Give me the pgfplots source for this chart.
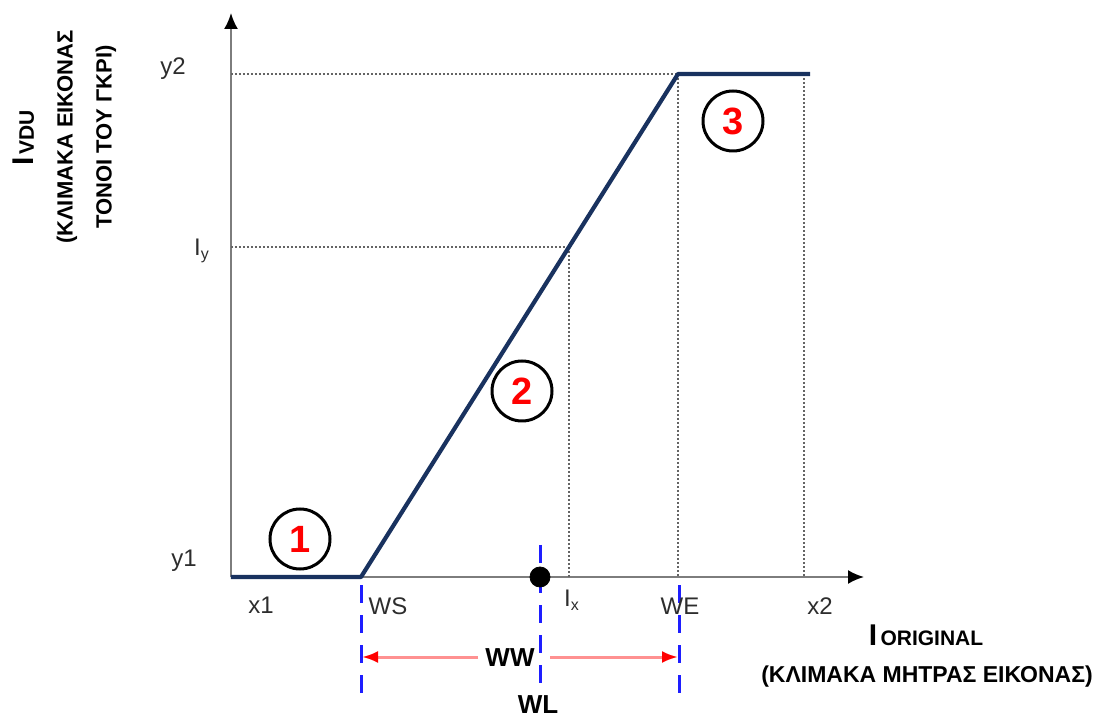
\documentclass[border=0pt]{standalone}
\usepackage{fontspec}
\setmainfont{Liberation Sans}
\usepackage{pgfplots}
\pgfplotsset{compat=1.18}
\usetikzlibrary{arrows.meta}
\definecolor{navy}{RGB}{25,50,95}
\definecolor{axgray}{RGB}{125,125,125}
\definecolor{pinkred}{RGB}{255,145,145}
\definecolor{dblue}{RGB}{30,30,255}
\definecolor{lbl}{RGB}{45,45,45}
\definecolor{dotg}{RGB}{100,100,100}
\begin{document}
\begin{tikzpicture}
\begin{axis}[
  scale only axis, width=316.5pt, height=282pt,
  xmin=231, xmax=864, ymin=140, ymax=704,
  axis lines=left, ticks=none, clip=false,
  axis line style={axgray, line width=1pt},
  every outer x axis line/.append style={-{Latex[black,length=8pt,width=7pt]}},
  every outer y axis line/.append style={-{Latex[black,length=8pt,width=7pt]}},
]
\path (axis cs:0,0) rectangle (axis cs:1107,717);
% dotted guides
\addplot[dotg, line width=0.7pt, dash pattern=on 1pt off 1pt] coordinates {(231,643) (678,643)};
\addplot[dotg, line width=0.7pt, dash pattern=on 1pt off 1pt] coordinates {(678,643) (678,140)};
\addplot[dotg, line width=0.7pt, dash pattern=on 1pt off 1pt] coordinates {(804,643) (804,140)};
\addplot[dotg, line width=0.7pt, dash pattern=on 1pt off 1pt] coordinates {(231,470) (569,470)};
\addplot[dotg, line width=0.7pt, dash pattern=on 1pt off 1pt] coordinates {(569,470) (569,140)};
% transfer curve
\addplot[navy, line width=2.1pt, line join=round] coordinates {(231,140) (361,140) (678,643) (810,643)};
% window lines
\addplot[dblue, line width=1.5pt, dash pattern=on 9pt off 6pt] coordinates {(361,132) (361,19)};
\addplot[dblue, line width=1.5pt, dash pattern=on 9pt off 6pt] coordinates {(540,172) (540,24)};
\addplot[dblue, line width=1.5pt, dash pattern=on 9pt off 6pt] coordinates {(679,132) (679,19)};
% WW arrows
\addplot[pinkred, line width=1.5pt, -{Latex[red,length=8pt,width=6pt]}] coordinates {(478,60) (362,60)};
\addplot[pinkred, line width=1.5pt, -{Latex[red,length=8pt,width=6pt]}] coordinates {(550,60) (678,60)};
% level point
\addplot[only marks, mark=*, mark size=5pt, black] coordinates {(540,140)};
% region circles
\node[circle, draw=black, line width=1.5pt, minimum size=30pt, inner sep=0pt, text=red, font=\fontsize{19}{19}\selectfont\bfseries] at (axis cs:300,178) {1};
\node[circle, draw=black, line width=1.5pt, minimum size=30pt, inner sep=0pt, text=red, font=\fontsize{19}{19}\selectfont\bfseries] at (axis cs:522,326) {2};
\node[circle, draw=black, line width=1.5pt, minimum size=30pt, inner sep=0pt, text=red, font=\fontsize{19}{19}\selectfont\bfseries] at (axis cs:733,596) {3};
% labels
\tikzset{lb/.style={text=lbl, font=\fontsize{12}{14}\selectfont, inner sep=0pt}}
\node[lb] at (axis cs:173,648) {y2};
\node[lb] at (axis cs:202,466) {I\textsubscript{y}};
\node[lb] at (axis cs:184,156) {y1};
\node[lb] at (axis cs:261,112) {x1};
\node[lb] at (axis cs:388,111) {WS};
\node[lb] at (axis cs:572,117) {I\textsubscript{x}};
\node[lb] at (axis cs:680,111) {WE};
\node[lb] at (axis cs:820,111) {x2};
\node[inner sep=0pt, font=\fontsize{13}{15}\selectfont\bfseries] at (axis cs:510,59) {WW};
\node[inner sep=0pt, font=\fontsize{13}{15}\selectfont\bfseries] at (axis cs:538,12) {WL};
\node[inner sep=0pt, anchor=base] at (axis cs:926,72) {{\fontsize{15}{15}\selectfont\bfseries I}\,{\fontsize{10.5}{12}\selectfont\bfseries ORIGINAL}};
\node[inner sep=0pt, font=\fontsize{11.5}{13}\selectfont\bfseries] at (axis cs:927,40) {(ΚΛΙΜΑΚΑ ΜΗΤΡΑΣ ΕΙΚΟΝΑΣ)};
\node[inner sep=0pt, rotate=90, anchor=base] at (axis cs:34,579) {{\fontsize{15}{15}\selectfont\bfseries I}\,{\fontsize{10.5}{12}\selectfont\bfseries VDU}};
\node[inner sep=0pt, rotate=90, font=\fontsize{11}{13}\selectfont\bfseries] at (axis cs:67,580) {(ΚΛΙΜΑΚΑ ΕΙΚΟΝΑΣ};
\node[inner sep=0pt, rotate=90, font=\fontsize{11}{13}\selectfont\bfseries] at (axis cs:106,580) {ΤΟΝΟΙ ΤΟΥ ΓΚΡΙ)};
\end{axis}
\end{tikzpicture}
\end{document}
